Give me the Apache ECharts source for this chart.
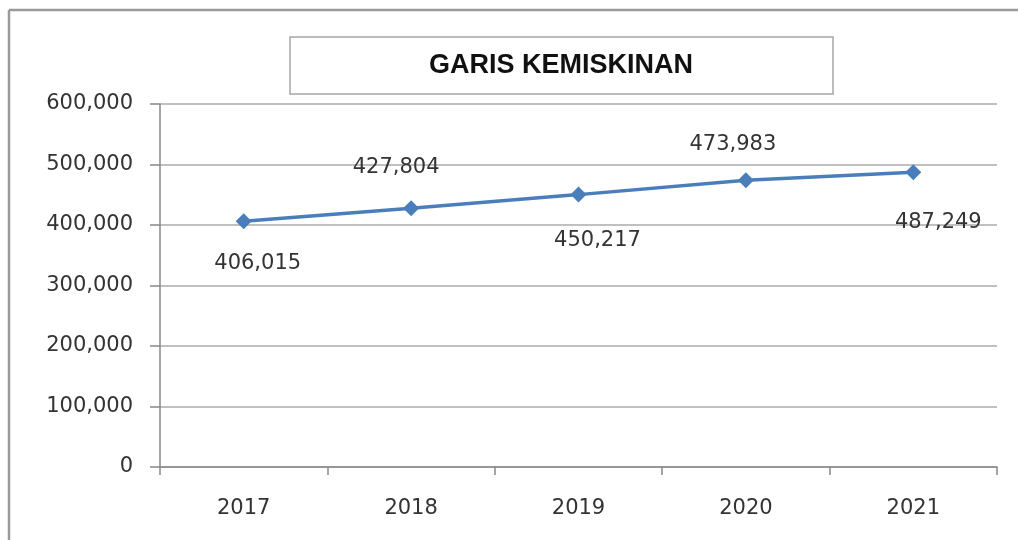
<!DOCTYPE html>
<html>
<head>
<meta charset="utf-8">
<script src="https://cdn.jsdelivr.net/npm/echarts@6/dist/echarts.min.js"></script>
<style>
  html, body { margin: 0; padding: 0; background: #fff; overflow: hidden; }
  #chart { width: 1018px; height: 540px; }
</style>
</head>
<body>
<div id="chart"></div>
<script>
// data
const years = ["2017", "2018", "2019", "2020", "2021"];
const garisKemiskinan = [406015, 427804, 450217, 473983, 487249];
const yTicks = [0, 100000, 200000, 300000, 400000, 500000, 600000];

// label nudges (px) so they sit where the original has them
const labelNudge = [[14, 42], [-15, -41], [19, 46], [-13, -36], [25, 50]];

const fmt = (v) => v.toLocaleString("en-US");

const chart = echarts.init(document.getElementById("chart"), null, { renderer: "canvas" });

let seriesData = garisKemiskinan.map((v, i) => ({
  value: v,
  label: { offset: labelNudge[i] },
}));

const frameStyle = { stroke: "#9a9a9a", lineWidth: 2.5 };

let option = {
  animation: false,
  backgroundColor: "#fff",
  graphic: [
    // outer chart frame: only top + left edges are inside the crop
    { type: "line", shape: { x1: 9, y1: 10, x2: 1030, y2: 10 }, style: frameStyle },
    { type: "line", shape: { x1: 9, y1: 10, x2: 9, y2: 560 }, style: frameStyle },
    // title box
    {
      type: "rect",
      shape: { x: 290, y: 37, width: 543, height: 57 },
      style: { fill: "#fff", stroke: "#a6a6a6", lineWidth: 1.5 },
      z: 1,
    },
    {
      type: "text",
      x: 561,
      y: 66,
      style: {
        text: "GARIS KEMISKINAN",
        font: "bold 27px 'Liberation Sans', sans-serif",
        fill: "#111",
        align: "center",
        verticalAlign: "middle",
      },
      z: 2,
    },
  ],
  grid: { left: 160, right: 21, top: 104, bottom: 73, containLabel: false },
  xAxis: {
    type: "category",
    data: years,
    boundaryGap: true,
    axisLine: { lineStyle: { color: "#888", width: 1.5 } },
    axisTick: { show: true, length: 8, lineStyle: { color: "#888", width: 1.5 } },
    axisLabel: { color: "#333", fontSize: 21, fontFamily: "DejaVu Sans", margin: 31 },
    splitLine: { show: false },
  },
  yAxis: {
    type: "value",
    min: yTicks[0],
    max: yTicks[yTicks.length - 1],
    interval: 100000,
    axisLine: { show: true, lineStyle: { color: "#888", width: 1.5 } },
    axisTick: { show: true, length: 10, lineStyle: { color: "#888", width: 1.5 } },
    axisLabel: { color: "#333", fontSize: 21, fontFamily: "DejaVu Sans", margin: 27, formatter: fmt },
    splitLine: { lineStyle: { color: "#ababab", width: 1.5 } },
  },
  series: [
    {
      type: "line",
      data: seriesData,
      symbol: "diamond",
      symbolSize: 16,
      itemStyle: { color: "#4a7ebb" },
      lineStyle: { color: "#4a7ebb", width: 3.5 },
      label: {
        show: true,
        position: "inside",
        align: "center",
        verticalAlign: "middle",
        color: "#333",
        fontSize: 21,
        fontFamily: "DejaVu Sans",
        formatter: (p) => fmt(p.value),
      },
    },
  ],
};

option && chart.setOption(option);
</script>
</body>
</html>
